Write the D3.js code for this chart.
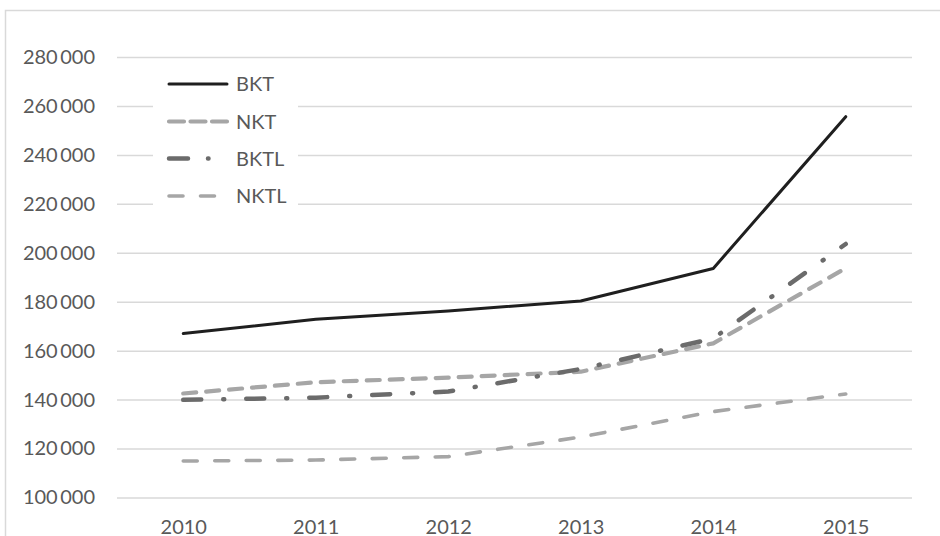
<!DOCTYPE html>
<html lang="en">
<head>
<meta charset="UTF-8">
<title>BKT / NKT</title>
<script src="https://d3js.org/d3.v7.min.js"></script>
<style>
  body { margin: 0; background: #fff; }
  svg { display: block; font-family: Lato, "Open Sans", sans-serif; }
</style>
</head>
<body>
<svg></svg>
<script>
const years = ["2010", "2011", "2012", "2013", "2014", "2015"];
const bkt  = [167000, 172800, 176200, 180300, 193600, 255600];
const nkt  = [142500, 147100, 149000, 151400, 163000, 193700];
const bktl = [139900, 140800, 143300, 152500, 165000, 203600];
const nktl = [114900, 115300, 116700, 124700, 135100, 142300];
const yTicks = [100000, 120000, 140000, 160000, 180000, 200000, 220000, 240000, 260000, 280000];
const seriesNames = ["BKT", "NKT", "BKTL", "NKTL"];

const width = 940, height = 536;
const styles = {
  BKT:  { color: "#1f1f1f", w: 3,   dash: null,          cap: "round" },
  NKT:  { color: "#a6a6a6", w: 4.2, dash: "13,10",       cap: "round" },
  BKTL: { color: "#6b6b6b", w: 4.5, dash: "18,22,1,22",  cap: "round" },
  NKTL: { color: "#a6a6a6", w: 3.6, dash: "14,17.5",     cap: "round" }
};
const values = { BKT: bkt, NKT: nkt, BKTL: bktl, NKTL: nktl };

const svg = d3.select("svg").attr("width", width).attr("height", height);

// outer frame
svg.append("rect")
  .attr("x", 5.5).attr("y", 10.5)
  .attr("width", 960).attr("height", 560)
  .attr("fill", "none").attr("stroke", "#d9d9d9").attr("stroke-width", 1.5);

const x = d3.scalePoint().domain(years).range([117, 912]).padding(0.5);
const y = d3.scaleLinear().domain([100000, 280000]).range([497.5, 57]);

const fmt = v => d3.format(",")(v).replace(/,/g, "\u2009");

// grid
svg.append("g")
  .attr("transform", "translate(117,0)")
  .call(d3.axisLeft(y).tickValues(yTicks).tickSize(-(912 - 117)).tickFormat(fmt))
  .call(g => g.select(".domain").remove())
  .call(g => g.selectAll(".tick line").attr("stroke", "#d9d9d9").attr("stroke-width", 1.5))
  .call(g => g.selectAll(".tick text")
    .attr("x", -22).attr("fill", "#595959").attr("font-size", 20)
    .attr("font-family", "Lato, sans-serif"));

// x axis labels
svg.append("g")
  .attr("transform", "translate(0,497.5)")
  .call(d3.axisBottom(x).tickSize(0))
  .call(g => g.select(".domain").remove())
  .call(g => g.selectAll(".tick text")
    .attr("y", 22).attr("dy", "0.71em").attr("fill", "#595959").attr("font-size", 20)
    .attr("font-family", "Lato, sans-serif"));

const line = d3.line()
  .x((d, i) => x(years[i]))
  .y(d => y(d));

// draw back to front
["NKTL", "NKT", "BKTL", "BKT"].forEach(name => {
  const s = styles[name];
  svg.append("path")
    .datum(values[name])
    .attr("fill", "none")
    .attr("stroke", s.color)
    .attr("stroke-width", s.w)
    .attr("stroke-linecap", s.cap)
    .attr("stroke-linejoin", "round")
    .attr("stroke-dasharray", s.dash)
    .attr("d", line);
});

// legend
const legend = svg.append("g");
legend.append("rect")
  .attr("x", 153).attr("y", 66).attr("width", 145).attr("height", 148)
  .attr("fill", "#fff");
const legY = [84, 121.5, 158.5, 196];
seriesNames.forEach((name, i) => {
  const s = styles[name];
  legend.append("line")
    .attr("x1", 169).attr("x2", 227)
    .attr("y1", legY[i]).attr("y2", legY[i])
    .attr("stroke", s.color)
    .attr("stroke-width", s.w)
    .attr("stroke-linecap", s.cap)
    .attr("stroke-dasharray", name === "NKT" ? "15,6.5" : name === "BKTL" ? "19,20,0.5,20" : name === "NKTL" ? "14,17.5" : null);
  legend.append("text")
    .attr("x", 236).attr("y", legY[i]).attr("dy", "0.36em")
    .attr("fill", "#595959").attr("font-size", 20)
    .text(name);
});
</script>
</body>
</html>
